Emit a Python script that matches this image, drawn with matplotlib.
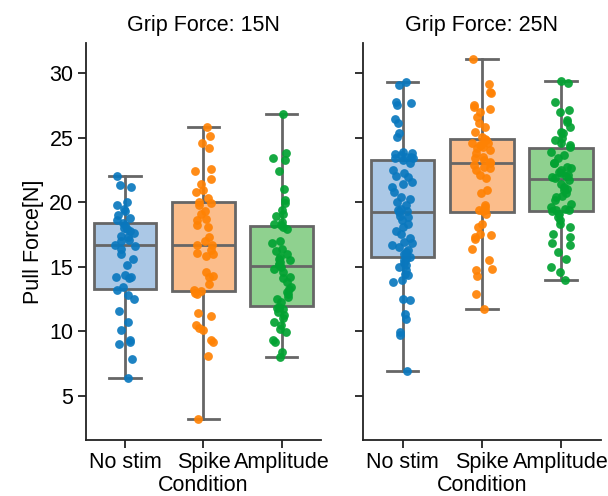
import numpy as np
import matplotlib
matplotlib.use("Agg")
import matplotlib.pyplot as plt

plt.rcParams['font.family'] = ['Liberation Sans', 'DejaVu Sans']

conditions = ["No stim", "Spike", "Amplitude"]
panels = ["Grip Force: 15N", "Grip Force: 25N"]

nostim_15 = [22.0, 21.3, 21.2, 20.0, 19.8, 19.5, 19.3, 19.0, 18.8, 18.6, 18.4, 18.2,
             18.0, 17.9, 17.8, 17.6, 17.4, 17.3, 17.1, 17.0, 16.7, 16.6, 16.4, 16.0,
             15.6, 15.1, 14.4, 14.2, 14.2, 14.1, 13.4, 13.2, 12.8, 12.5, 11.6, 10.7,
             10.1, 9.3, 9.2, 9.0, 7.9, 6.4]
spike_15 = [25.8, 25.1, 24.6, 24.2, 22.6, 22.4, 21.8, 21.4, 20.9, 20.8, 20.3, 20.0,
            19.9, 19.8, 19.3, 19.1, 18.7, 18.6, 18.2, 18.1, 17.3, 17.0, 16.7, 16.7,
            16.3, 16.1, 16.0, 15.8, 14.6, 14.3, 14.2, 13.7, 13.2, 13.1, 13.0, 12.9,
            11.4, 11.2, 10.5, 10.3, 10.1, 9.3, 9.2, 8.1, 3.2]
amp_15 = [26.8, 23.8, 23.4, 23.25, 22.4, 21.0, 20.15, 19.9, 19.4, 19.1, 18.9, 18.5,
          18.3, 18.2, 18.1, 17.95, 17.0, 16.8, 16.4, 16.2, 16.0, 15.75, 15.6, 15.5,
          15.4, 15.25, 15.1, 15.0, 14.85, 14.6, 14.2, 14.1, 13.8, 13.4, 13.3, 13.05,
          12.9, 12.65, 12.5, 12.3, 11.85, 11.8, 11.75, 11.5, 11.25, 11.0, 10.7, 10.5,
          10.2, 9.95, 9.3, 9.2, 8.4, 8.0]
nostim_25 = [29.3, 29.07, 27.78, 27.65, 27.52, 26.4, 26.15, 25.32, 25.06, 23.9, 23.77,
             23.7, 23.64, 23.51, 23.5, 23.45, 23.38, 23.25, 23.0, 22.5, 22.22, 22.0,
             21.96, 21.57, 21.44, 21.2, 20.8, 20.4, 20.28, 20.02, 19.8, 19.5, 19.4,
             19.3, 19.2, 18.9, 18.86, 18.6, 18.34, 18.09, 17.8, 17.57, 17.2, 16.92,
             16.8, 16.67, 16.54, 16.28, 16.15, 15.95, 15.89, 15.76, 15.63, 15.5,
             15.3, 15.11, 14.98, 14.73, 14.47, 14.34, 13.95, 13.82, 12.53, 12.4,
             11.37, 10.98, 9.95, 9.69, 6.95]
spike_25 = [31.06, 29.12, 28.55, 28.47, 27.52, 27.39, 27.18, 27.0, 26.61, 26.1,
            25.84, 25.45, 25.06, 24.9, 24.8, 24.6, 24.55, 24.42, 24.4, 24.29, 24.16,
            24.03, 23.8, 23.51, 23.38, 23.25, 23.1, 23.0, 22.87, 22.74, 22.61, 22.48,
            22.09, 21.83, 20.93, 20.67, 19.76, 19.63, 19.4, 19.38, 19.3, 19.12, 18.34,
            18.08, 17.57, 17.44, 17.31, 17.18, 16.35, 15.55, 14.86, 14.73, 14.26,
            12.92, 11.75]
amp_25 = [29.4, 29.25, 27.78, 27.13, 27.0, 26.35, 26.22, 25.84, 25.45, 25.32, 24.93,
          24.8, 24.6, 24.45, 24.3, 23.9, 23.64, 23.38, 23.0, 22.99, 22.74, 22.61,
          22.48, 22.35, 22.22, 22.09, 22.0, 21.96, 21.83, 21.7, 21.44, 21.19, 21.0,
          20.93, 20.67, 20.5, 20.41, 20.15, 19.89, 19.64, 19.5, 19.4, 19.38, 19.3,
          19.12, 18.86, 18.6, 18.34, 18.09, 17.57, 17.31, 16.8, 16.67, 16.15, 15.63,
          14.98, 14.6, 13.95]

data = [[nostim_15, spike_15, amp_15], [nostim_25, spike_25, amp_25]]

box_colors = ["#abc8e6", "#fbbd8b", "#8fd18f"]
point_colors = ["#0a78be", "#ff8204", "#02a232"]
edge = "#666666"

fig = plt.figure(figsize=(6.08, 4.96), dpi=100)
ax1 = fig.add_axes([0.1414, 0.113, 0.3865, 0.800])
ax2 = fig.add_axes([0.597, 0.113, 0.391, 0.800], sharey=ax1)

rng = np.random.default_rng(3)
fs = 15.5
for ax, title, groups in zip([ax1, ax2], panels, data):
    bp = ax.boxplot(groups, positions=range(3), widths=0.8, patch_artist=True,
                    showfliers=False, whis=1.5, capwidths=0.4,
                    medianprops=dict(color=edge, linewidth=2),
                    boxprops=dict(edgecolor=edge, linewidth=2),
                    whiskerprops=dict(color=edge, linewidth=2),
                    capprops=dict(color=edge, linewidth=2), zorder=2)
    for patch, c in zip(bp['boxes'], box_colors):
        patch.set_facecolor(c)
    for i, vals in enumerate(groups):
        jit = rng.uniform(-0.13, 0.13, len(vals))
        ax.scatter(i + jit, vals, s=40, color=point_colors[i], alpha=0.92,
                   linewidths=0, zorder=3)
    ax.set_xlim(-0.5, 2.5)
    ax.set_xticks(range(3))
    ax.set_xticklabels(conditions, fontsize=fs)
    ax.set_title(title, fontsize=fs, pad=9)
    ax.set_xlabel("Condition", fontsize=fs, labelpad=1)
    for s in ["top", "right"]:
        ax.spines[s].set_visible(False)
    for s in ["left", "bottom"]:
        ax.spines[s].set_linewidth(1.3)
        ax.spines[s].set_color("#222222")
    ax.tick_params(axis='both', length=6, width=1.3, color="#222222",
                   labelsize=fs, pad=3)

ax1.set_ylim(1.6, 32.3)
ax1.set_yticks([5, 10, 15, 20, 25, 30])
ax1.set_ylabel("Pull Force[N]", fontsize=fs)
plt.setp(ax2.get_yticklabels(), visible=False)

fig.savefig("out.png", dpi=100)
